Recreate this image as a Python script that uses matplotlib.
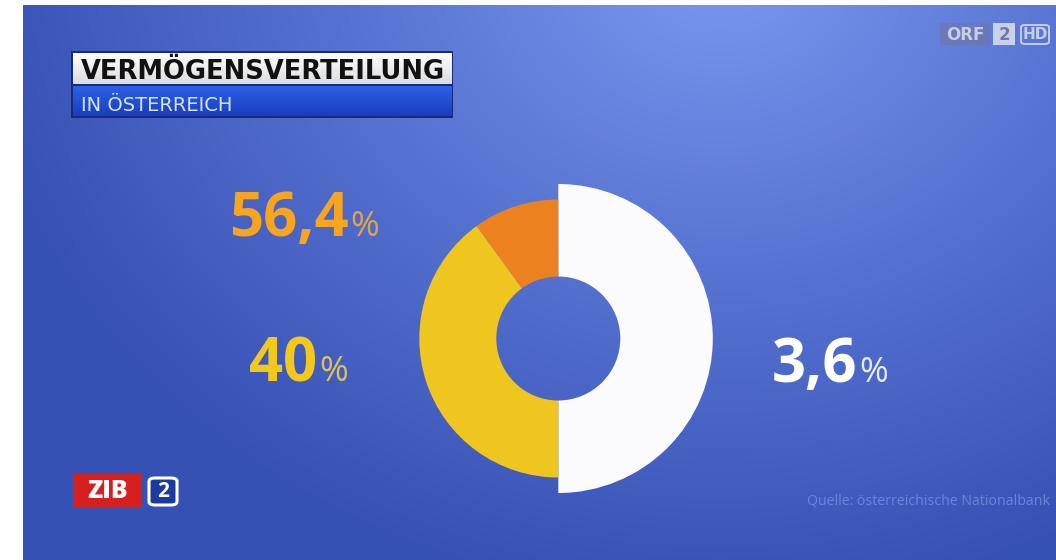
import numpy as np
import matplotlib
matplotlib.use("Agg")
import matplotlib.pyplot as plt
from matplotlib.patches import Rectangle, FancyBboxPatch

# --- data ---------------------------------------------------------------
groups = ["Untere 50 %", "Top 10 %", "Mittlere 40 %"]
population_share = [50, 10, 40]          # share of households (ring slices)
wealth_share = [3.6, 56.4, 40]           # share of total wealth (labels)
wealth_labels = ["3,6", "56,4", "40"]
title = "VERMÖGENSVERTEILUNG"
subtitle = "IN ÖSTERREICH"
source = "Quelle: österreichische Nationalbank"

W, H = 1056, 560
fig = plt.figure(figsize=(W / 100, H / 100), dpi=100, facecolor="white")


def fx(x):
    return x / W


def fy(y):
    return 1 - y / H


# --- background: soft radial blue gradient -------------------------------
bx0, by0 = 23, 5
bg_ax = fig.add_axes([fx(bx0), 0, fx(W - bx0), (H - by0) / H])
bg_ax.set_axis_off()
yy, xx = np.mgrid[by0:H, bx0:W]
d = np.sqrt(((xx - 720) / 1.0) ** 2 + ((yy + 40) / 0.85) ** 2)
t = np.clip(d / 760, 0, 1) ** 0.9
c0 = np.array([0x7c, 0x9a, 0xf2]) / 255
c1 = np.array([0x36, 0x51, 0xb4]) / 255
img = c0[None, None, :] * (1 - t[..., None]) + c1[None, None, :] * t[..., None]
bg_ax.imshow(img, aspect="auto", extent=[0, 1, 0, 1], origin="upper")
bg_ax.set_xlim(0, 1)
bg_ax.set_ylim(0, 1)

# --- donut ----------------------------------------------------------------
cx, cy = 558.3, 338.5
R = 154.5
lim = 1.2
side = 2 * lim * R
ax = fig.add_axes([fx(cx - side / 2), fy(cy + side / 2), side / W, side / H])
ax.set_axis_off()
hole = 62 / R
inner_outer = 139 / R
white, orange, yellow = "#fbfbfd", "#ec8120", "#eec61f"

# outer white half (bottom 50 %)
ax.pie(population_share, radius=1.0, startangle=-90, counterclock=True,
       colors=[white, "none", "none"],
       wedgeprops=dict(width=1.0 - hole, linewidth=0, antialiased=True))
# smaller ring for the upper groups
ax.pie(population_share, radius=inner_outer, startangle=-90, counterclock=True,
       colors=["none", orange, yellow],
       wedgeprops=dict(width=inner_outer - hole, linewidth=0, antialiased=True))
ax.set_xlim(-lim, lim)
ax.set_ylim(-lim, lim)
ax.set_aspect("equal")

# --- value labels -----------------------------------------------------------
num_font = "Open Sans"
label_specs = [
    # (text, left x, baseline y, number colour, percent colour)
    (wealth_labels[1], 229, 236, "#f7a41e", "#e0a448"),
    (wealth_labels[2], 249, 381, "#f2c81c", "#dcc15a"),
    (wealth_labels[0], 772, 382, "#ffffff", "#e6ebf8"),
]
for txt, x, y, col, pcol in label_specs:
    t_num = fig.text(fx(x), fy(y), txt, fontsize=43, fontweight="bold",
                     family=num_font, color=col, ha="left", va="baseline")
    fig.canvas.draw()
    fig.add_artist(plt.Annotation(
        "%", xy=(1.0, fy(y)), xycoords=(t_num, "figure fraction"),
        xytext=(1.5, 0), textcoords="offset points", fontsize=25,
        family=num_font, color=pcol, ha="left", va="baseline"))

# --- title box --------------------------------------------------------------
fig.patches.append(Rectangle((fx(71), fy(118)), fx(453 - 71), (118 - 51) / H,
                             transform=fig.transFigure, facecolor="#1a2a78",
                             edgecolor="none", zorder=2))
top_ax = fig.add_axes([fx(73), fy(84), fx(451 - 73), (84 - 53) / H], zorder=3)
top_ax.set_axis_off()
grad = np.linspace(0, 1, 64)[:, None]
top_img = np.stack([1 - 0.14 * grad, 1 - 0.14 * grad, 1 - 0.12 * grad], axis=-1)
top_ax.imshow(np.repeat(top_img, 4, axis=1), aspect="auto", extent=[0, 1, 0, 1])
low_ax = fig.add_axes([fx(73), fy(116), fx(451 - 73), (116 - 85.5) / H], zorder=3)
low_ax.set_axis_off()
lc0 = np.array([0x2d, 0x62, 0xe8]) / 255
lc1 = np.array([0x1a, 0x3d, 0xc0]) / 255
low_img = lc0[None, None, :] * (1 - grad[..., None]) + lc1[None, None, :] * grad[..., None]
low_ax.imshow(np.repeat(low_img, 4, axis=1), aspect="auto", extent=[0, 1, 0, 1])

fig.text(fx(81), fy(79), title, fontsize=18.5, fontweight="bold",
         family="DejaVu Sans", color="#111111", ha="left", va="baseline", zorder=5)
fig.text(fx(81), fy(111), subtitle, fontsize=14, family="DejaVu Sans",
         color="#d4e6ff", ha="left", va="baseline", zorder=5)

# --- ZIB 2 logo -------------------------------------------------------------
fig.patches.append(Rectangle((fx(73), fy(508)), fx(142 - 73), (508 - 474) / H,
                             transform=fig.transFigure, facecolor="#d6201f",
                             edgecolor="none"))
fig.text(fx(107.5), fy(491), "ZIB", fontsize=18, fontweight="heavy",
         family="Open Sans", color="white", ha="center", va="center")
fig.patches.append(FancyBboxPatch((fx(149), fy(505)), fx(177 - 149), (505 - 478) / H,
                                  boxstyle="round,pad=0,rounding_size=0.006",
                                  transform=fig.transFigure, facecolor="#1d3a9e",
                                  edgecolor="white", linewidth=2.2))
fig.text(fx(163), fy(491.5), "2", fontsize=15, fontweight="bold",
         family="Open Sans", color="white", ha="center", va="center")

# --- ORF 2 HD logo ----------------------------------------------------------
fig.patches.append(Rectangle((fx(940), fy(45)), fx(990 - 940), (45 - 23) / H,
                             transform=fig.transFigure, facecolor="#6d78b4",
                             edgecolor="none", alpha=0.85))
fig.text(fx(965), fy(34.5), "ORF", fontsize=12, fontweight="heavy",
         family="DejaVu Sans", color="#c7cde4", ha="center", va="center")
fig.patches.append(Rectangle((fx(993), fy(45)), fx(1015 - 993), (45 - 23) / H,
                             transform=fig.transFigure, facecolor="#c9d0ea",
                             edgecolor="none"))
fig.text(fx(1004), fy(34.5), "2", fontsize=12, fontweight="heavy",
         family="DejaVu Sans", color="#6e78ae", ha="center", va="center")
fig.patches.append(FancyBboxPatch((fx(1021), fy(44)), fx(1049 - 1021), (44 - 25) / H,
                                  boxstyle="round,pad=0,rounding_size=0.004",
                                  transform=fig.transFigure, facecolor="none",
                                  edgecolor="#c5cdea", linewidth=1.4))
fig.text(fx(1035), fy(34.5), "HD", fontsize=11, fontweight="bold",
         family="DejaVu Sans", color="#c5cdea", ha="center", va="center")

# --- source -----------------------------------------------------------------
fig.text(fx(1050), fy(501), source, fontsize=10.2, family="Open Sans",
         color="#6a85dc", ha="right", va="center")

fig.savefig("out.png", dpi=100, facecolor=fig.get_facecolor())
